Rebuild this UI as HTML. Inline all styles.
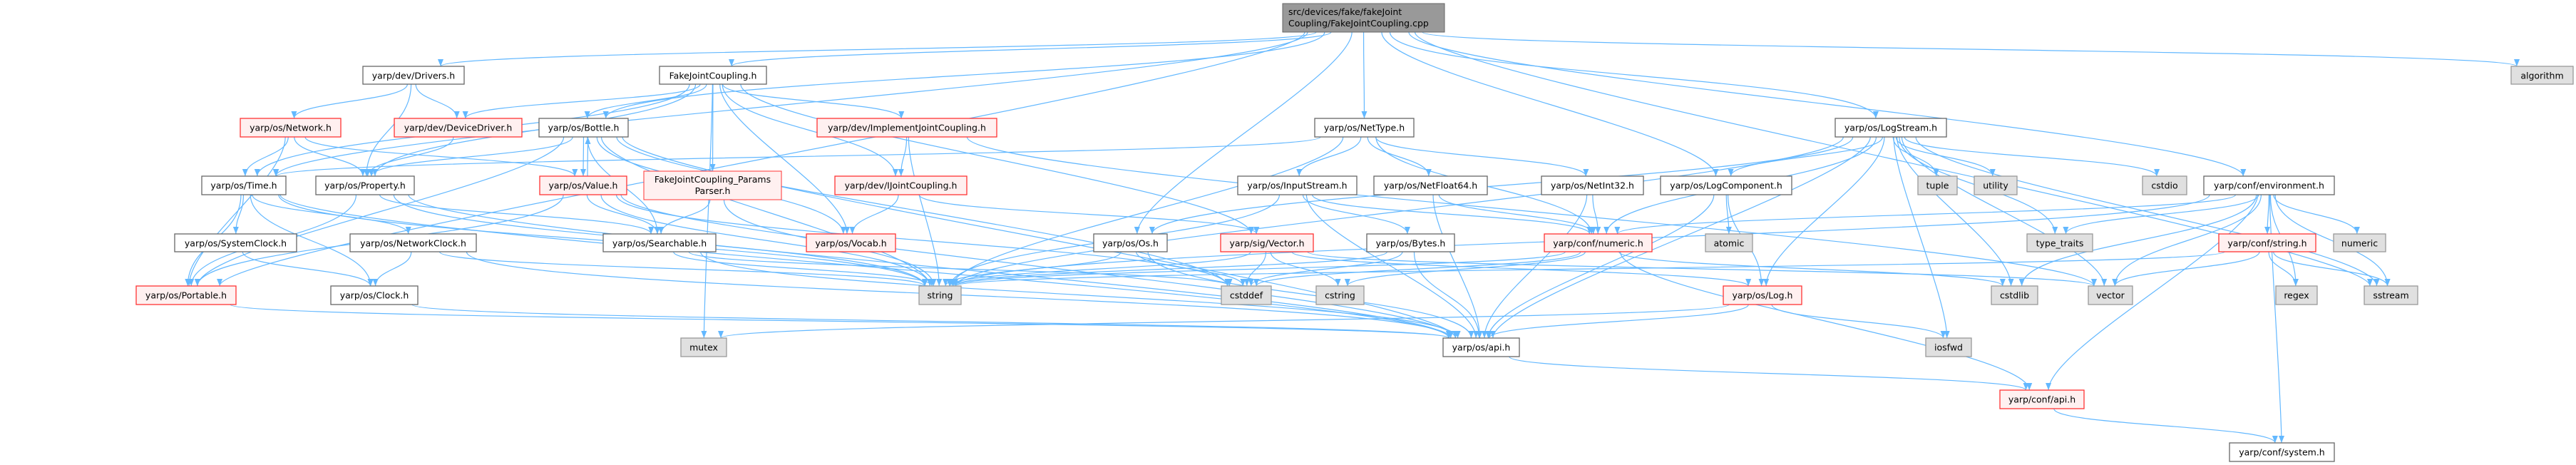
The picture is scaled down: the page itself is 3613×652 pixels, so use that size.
<!DOCTYPE html>
<html><head><meta charset="utf-8"><style>
html,body{margin:0;padding:0;background:#fff;}
svg{display:block;}
text{font-family:"DejaVu Sans","Liberation Sans",sans-serif;font-size:12.5px;fill:#000;}
</style></head><body>
<svg id="g" width="3613" height="652" viewBox="0 0 3613 652" xmlns="http://www.w3.org/2000/svg">
<defs><marker id="ar" viewBox="0 0 10 10" refX="10" refY="5" markerWidth="10" markerHeight="10" markerUnits="userSpaceOnUse" orient="auto"><path d="M0,1 L10,5 L0,9 z" fill="#63b8ff"/></marker></defs>
<g id="edges" fill="none" stroke="#63b8ff" stroke-width="1.2"></g>
<g id="nodes">
<rect x="1799" y="5" width="227" height="40" fill="#999" stroke="#666"/><text x="1807" y="21">src/devices/fake/fakeJoint</text><text x="1807" y="37">Coupling/FakeJointCoupling.cpp</text>
<rect x="903" y="240" width="193" height="40" fill="#fff0f0" stroke="#f33"/><text x="999.5" y="256" text-anchor="middle">FakeJointCoupling_Params</text><text x="999.5" y="272" text-anchor="middle">Parser.h</text>
</g>
</svg>
<script>
var R=[[5,45],[93,118],[166,192],[247,273],[328,353],[401,427],[474,500],[547,573],[621,647]];
var N={
Drivers:[509,651,1,'w','yarp/dev/Drivers.h'],FJC:[925,1075,1,'w','FakeJointCoupling.h'],algorithm:[3522,3609,1,'g','algorithm'],
Network:[337,478,2,'r','yarp/os/Network.h'],DeviceDriver:[553,732,2,'r','yarp/dev/DeviceDriver.h'],Bottle:[756,881,2,'w','yarp/os/Bottle.h'],
ImplJC:[1146,1398,2,'r','yarp/dev/ImplementJointCoupling.h'],NetType:[1844,1983,2,'w','yarp/os/NetType.h'],LogStream:[2574,2730,2,'w','yarp/os/LogStream.h'],
Time:[283,401,3,'w','yarp/os/Time.h'],Property:[443,581,3,'w','yarp/os/Property.h'],Value:[757,879,3,'r','yarp/os/Value.h'],
IJC:[1171,1356,3,'r','yarp/dev/IJointCoupling.h'],InputStream:[1736,1903,3,'w','yarp/os/InputStream.h'],NetFloat64:[1927,2086,3,'w','yarp/os/NetFloat64.h'],
NetInt32:[2162,2305,3,'w','yarp/os/NetInt32.h'],LogComponent:[2329,2513,3,'w','yarp/os/LogComponent.h'],tuple:[2690,2745,3,'g','tuple'],
utility:[2769,2829,3,'g','utility'],cstdio:[3005,3067,3,'g','cstdio'],environment:[3091,3274,3,'w','yarp/conf/environment.h'],
SystemClock:[245,416,4,'w','yarp/os/SystemClock.h'],NetworkClock:[491,668,4,'w','yarp/os/NetworkClock.h'],Searchable:[846,1004,4,'w','yarp/os/Searchable.h'],
Vocab:[1131,1256,4,'r','yarp/os/Vocab.h'],Os:[1534,1637,4,'w','yarp/os/Os.h'],Vector:[1712,1842,4,'r','yarp/sig/Vector.h'],Bytes:[1917,2040,4,'w','yarp/os/Bytes.h'],
numericH:[2166,2317,4,'r','yarp/conf/numeric.h'],atomic:[2392,2458,4,'g','atomic'],type_traits:[2843,2935,4,'g','type_traits'],
cstringH:[3112,3248,4,'r','yarp/conf/string.h'],numeric:[3273,3346,4,'g','numeric'],
Portable:[191,331,5,'r','yarp/os/Portable.h'],Clock:[464,586,5,'w','yarp/os/Clock.h'],string:[1289,1348,5,'g','string'],cstddef:[1713,1783,5,'g','cstddef'],
cstring:[1846,1913,5,'g','cstring'],Log:[2417,2527,5,'r','yarp/os/Log.h'],cstdlib:[2793,2858,5,'g','cstdlib'],vector:[2929,2991,5,'g','vector'],
regex:[3192,3250,5,'g','regex'],sstream:[3316,3391,5,'g','sstream'],
mutex:[955,1019,6,'g','mutex'],api:[2024,2131,6,'w','yarp/os/api.h'],iosfwd:[2701,2765,6,'g','iosfwd'],
confapi:[2805,2923,7,'r','yarp/conf/api.h'],system:[3127,3274,8,'w','yarp/conf/system.h']};
N.cpp=[1799,2026,0];N.FJCP=[903,1096,3];
var ns='http://www.w3.org/2000/svg',G=document.getElementById('nodes'),E=document.getElementById('edges');
function el(t,a,p){var e=document.createElementNS(ns,t);for(var k in a)e.setAttribute(k,a[k]);p.appendChild(e);return e;}
var sty={w:['#fff','#666'],r:['#fff0f0','#f33'],g:['#e0e0e0','#999']};
for(var k in N){var n=N[k];if(!n[4])continue;var y=R[n[2]];
el('rect',{x:n[0],y:y[0],width:n[1]-n[0],height:y[1]-y[0],fill:sty[n[3]][0],stroke:sty[n[3]][1],'stroke-width':1.3},G);
var t=el('text',{x:(n[0]+n[1])/2,y:y[0]+17.5,'text-anchor':'middle'},G);t.textContent=n[4];}
function box(k){var n=N[k],y=R[n[2]];if(k=='FJCP')y=[240,280];return[n[0],n[1],y[0],y[1]];}
var edges={
cpp:['FJC','Drivers','Time','Bottle','NetType','LogComponent','LogStream','environment','algorithm','sstream','Os','Portable'],
FJC:['FJCP','ImplJC','IJC','Bottle','DeviceDriver','Vocab','Vector','mutex','Time','Property'],
Drivers:['Network','DeviceDriver','Property'],
Network:['Time','Property','Value','Portable'],
DeviceDriver:['Property'],
Bottle:['Property','Value','Searchable','string','Portable','Vocab','api','cstddef'],
Value:['Bottle','Searchable','string','Portable','api','cstddef'],
Time:['SystemClock','NetworkClock','Portable','Clock','api','string'],
Property:['Searchable','Portable','string','api'],
SystemClock:['Clock'],NetworkClock:['Clock','api','string'],
Searchable:['string','cstddef','api'],Portable:['api'],Clock:['api'],
ImplJC:['IJC','string','vector'],IJC:['Vocab','Vector'],FJCP:['Searchable','string'],
NetType:['InputStream','NetFloat64','NetInt32','numericH','string','Time'],
InputStream:['Bytes','numericH','api','string'],NetFloat64:['numericH','api'],NetInt32:['numericH','api'],
LogComponent:['Log','api','atomic'],
LogStream:['LogComponent','Log','api','tuple','utility','cstdio','type_traits','cstdlib','iosfwd','sstream','vector','string','Os','numericH'],
Bytes:['api','cstddef','string'],Os:['string','cstddef','api'],
Vector:['cstddef','string','Log','vector','cstring'],
numericH:['cstring','string','cstddef','confapi','cstdlib'],
Log:['api','iosfwd','mutex'],api:['confapi'],confapi:['system'],
environment:['cstringH','numeric','type_traits','cstdlib','vector','regex','sstream','confapi','system','numericH','string'],
cstringH:['regex','sstream','vector','string']};
for(var s in edges){var a=box(s);edges[s].forEach(function(t,i){var b=box(t),d;
var sx=(a[0]+a[1])/2,tx=(b[0]+b[1])/2;
if(b[2]>=a[3]){var sy=a[3],ty=b[2],dy=Math.min(60,(ty-sy)*0.5);
sx=Math.max(a[0]+8,Math.min(a[1]-8,sx+(tx-sx)*0.05));tx=Math.max(b[0]+8,Math.min(b[1]-8,tx+(sx-tx)*0.03));
d='M'+sx+','+sy+' C'+sx+','+(sy+dy)+' '+tx+','+(ty-dy)+' '+tx+','+ty;}
else if(b[3]<=a[2]){var sy=a[2],ty=b[3],dy=Math.min(40,(sy-ty)*0.5);sx+=6;tx+=6;
d='M'+sx+','+sy+' C'+sx+','+(sy-dy)+' '+tx+','+(ty+dy)+' '+tx+','+ty;}
else{var my=(a[2]+a[3])/2;if(tx>sx)d='M'+a[1]+','+my+' L'+b[0]+','+((b[2]+b[3])/2);else d='M'+a[0]+','+my+' L'+b[1]+','+((b[2]+b[3])/2);}
el('path',{d:d,'marker-end':'url(#ar)'},E);});}
</script>
</body></html>
